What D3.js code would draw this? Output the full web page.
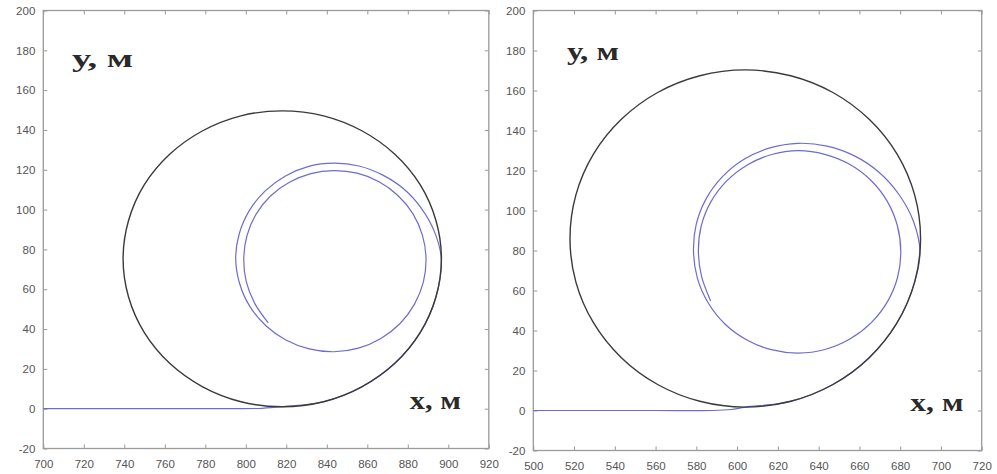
<!DOCTYPE html>
<html lang="ru">
  <head>
    <meta charset="utf-8"/>
    <style>
      body {
        margin: 0;
        background: #fff;
      }
      .tick text {
        font: 11.5px "Liberation Sans", Arial, sans-serif;
        fill: #555;
      }
      .tick line {
        stroke: #999;
      }
      .domain {
        display: none;
      }
      .frame {
        fill: none;
        stroke: #9a9a9a;
        stroke-width: 1.3px;
      }
      .axlabel {
        font-family: "Liberation Serif", "Times New Roman", serif;
        font-weight: bold;
        font-size: 25px;
        fill: #2a2a2a;
      }
    </style>
    <script src="https://cdn.jsdelivr.net/npm/d3@7"></script>
  </head>
  <body>
    <script type="text/javascript">
      // tick values
      var xTicksLeft = [700, 720, 740, 760, 780, 800, 820, 840, 860, 880, 900, 920];
      var xTicksRight = [500, 520, 540, 560, 580, 600, 620, 640, 660, 680, 700, 720];
      var yTicks = [-20, 0, 20, 40, 60, 80, 100, 120, 140, 160, 180, 200];

      // black circle, left plot, every 15 degrees starting at the right (x, y in m)
      var leftCircle = [
        [896.6, 75.3], [893.9, 94.5], [886.1, 112.5], [873.6, 127.8],
        [857.3, 139.6], [838.4, 147.1], [818, 149.6], [797.6, 147.1],
        [778.7, 139.6], [762.4, 127.8], [749.9, 112.5], [742.1, 94.5],
        [739.4, 75.3], [742.1, 56.1], [749.9, 38.2], [762.4, 22.8],
        [778.7, 11.0], [797.6, 3.5], [818, 1.0], [838.4, 3.5],
        [857.3, 11.0], [873.6, 22.8], [886.1, 38.2], [893.9, 56.1]
      ];
      // blue: straight run along y = 0, then the spiral after it leaves the circle
      var leftRun = [[700, 0], [760, 0], [795, 0], [808, 0.2]];
      var leftSpiral = [
        [896.5, 75.5], [893.2, 88.8], [886.8, 100.5], [878.2, 110.2],
        [867.7, 117.3], [855.9, 121.9], [843.5, 123.3], [831.1, 121.7],
        [819.6, 116.9], [809.6, 109.4], [801.8, 99.6], [796.8, 88.0],
        [795.0, 75.5], [796.9, 63.0], [801.9, 51.5], [809.8, 41.8],
        [819.8, 34.5], [831.3, 30.0], [843.5, 28.6], [855.6, 30.4],
        [866.7, 35.3], [876.2, 42.8], [883.3, 52.5], [887.7, 63.7],
        [889.0, 75.5], [887.2, 87.2], [882.5, 98.0], [875.1, 107.1],
        [865.8, 114.0], [855.0, 118.3], [843.5, 119.6], [832.1, 118.1],
        [821.5, 113.7], [812.2, 106.8], [805.1, 97.7], [800.6, 87.0],
        [799.0, 75.5], [800.2, 63.9], [804.4, 52.9], [811.1, 43.1]
      ];

      // black circle, right plot
      var rightCircle = [
        [690, 86], [687.1, 107.8], [678.5, 128.2], [664.8, 145.6],
        [647, 159], [626.3, 167.4], [604, 170.3], [581.7, 167.4],
        [561, 159], [543.2, 145.6], [529.5, 128.2], [520.9, 107.8],
        [518, 86], [520.9, 64.2], [529.5, 43.9], [543.2, 26.4],
        [561, 13], [581.7, 4.6], [604, 1.7], [626.3, 4.6],
        [647, 13], [664.8, 26.4], [678.5, 43.9], [687.1, 64.2]
      ];
      var rightRun = [[500, 0], [560, 0], [588, 0], [597, 0.5]];
      var rightSpiral = [
        [689.7, 79.5], [686.5, 94.6], [679.4, 108.0], [669.6, 119.1],
        [657.6, 127.3], [644.1, 132.2], [630.0, 133.6], [616.1, 131.3],
        [603.4, 125.6], [592.7, 116.8], [584.7, 105.7], [579.9, 92.9],
        [578.6, 79.5], [580.5, 66.2], [585.7, 54.0], [593.9, 43.4],
        [604.6, 35.4], [616.8, 30.4], [630.0, 28.7], [643.1, 30.5],
        [655.3, 35.7], [665.7, 43.8], [673.7, 54.3], [678.7, 66.5],
        [680.3, 79.5], [678.6, 92.5], [673.6, 104.7], [665.6, 115.1],
        [655.2, 123.1], [643.0, 128.1], [630.0, 129.9], [617.0, 128.0],
        [605.0, 122.8], [594.8, 114.7], [587.1, 104.3], [582.4, 92.3],
        [581.0, 79.5], [582.6, 66.8], [587.0, 54.7]
      ];

      var w = 997;
      var h = 474;

      // the two plots side by side; the blue path runs under the lower right arc of the circle
      var panels = [
        {xDomain: [700, 920], xTicks: xTicksLeft, left: 43.3, right: 488.8,
         top: 10.5, bottom: 448.5, circle: leftCircle,
         path: leftRun.concat(leftCircle.slice(18), leftSpiral),
         yLab: {x: 714.2, y: 171.5, len: 61}, xLab: {x: 881, y: 0, len: 51}},
        {xDomain: [500, 720], xTicks: xTicksRight, left: 533.3, right: 981.7,
         top: 10.5, bottom: 450.5, circle: rightCircle,
         path: rightRun.concat(rightCircle.slice(18), rightSpiral),
         yLab: {x: 516.5, y: 175.3, len: 52}, xLab: {x: 685, y: 0, len: 53}}
      ];

      var svg = d3.select("body")
                  .append("svg")
                  .attr("width", w)
                  .attr("height", h);

      panels.forEach(function(p) {
        var xScale = d3.scaleLinear()
                       .domain(p.xDomain)
                       .range([p.left, p.right]);
        var yScale = d3.scaleLinear()
                       .domain([-20, 200])
                       .range([p.bottom, p.top]);

        var g = svg.append("g");
        var plain = function(d) { return String(d); }; // hyphen minus like the original

        // axes with small inward ticks on all four sides
        g.append("g")
         .attr("transform", "translate(0," + p.bottom + ")")
         .call(d3.axisBottom(xScale).tickValues(p.xTicks).tickSize(-4).tickPadding(11).tickFormat(plain));
        g.append("g")
         .attr("transform", "translate(0," + p.top + ")")
         .call(d3.axisTop(xScale).tickValues(p.xTicks).tickSize(-4).tickFormat(""));
        g.append("g")
         .attr("transform", "translate(" + p.left + ",0)")
         .call(d3.axisLeft(yScale).tickValues(yTicks).tickSize(-4).tickPadding(8).tickFormat(plain));
        g.append("g")
         .attr("transform", "translate(" + p.right + ",0)")
         .call(d3.axisRight(yScale).tickValues(yTicks).tickSize(-4).tickFormat(""));

        g.append("rect")
         .attr("class", "frame")
         .attr("x", p.left)
         .attr("y", p.top)
         .attr("width", p.right - p.left)
         .attr("height", p.bottom - p.top);

        var line = d3.line()
                     .x(function(d) { return xScale(d[0]); })
                     .y(function(d) { return yScale(d[1]); });

        // blue trajectory
        g.append("path")
         .datum(p.path)
         .attr("fill", "none")
         .attr("stroke", "#6c6cd0")
         .attr("stroke-width", 1.2)
         .attr("d", line.curve(d3.curveCatmullRom.alpha(0.5)));

        // black circle
        g.append("path")
         .datum(p.circle)
         .attr("fill", "none")
         .attr("stroke", "#3a3a3a")
         .attr("stroke-width", 1.4)
         .attr("d", line.curve(d3.curveCatmullRomClosed.alpha(0.5)));

        // axis names
        g.append("text")
         .attr("class", "axlabel")
         .attr("x", xScale(p.yLab.x))
         .attr("y", yScale(p.yLab.y))
         .attr("textLength", p.yLab.len)
         .attr("lengthAdjust", "spacingAndGlyphs")
         .text("у, м");
        g.append("text")
         .attr("class", "axlabel")
         .attr("x", xScale(p.xLab.x))
         .attr("y", yScale(p.xLab.y))
         .attr("textLength", p.xLab.len)
         .attr("lengthAdjust", "spacingAndGlyphs")
         .text("х, м");
      });
    </script>
  </body>
</html>
